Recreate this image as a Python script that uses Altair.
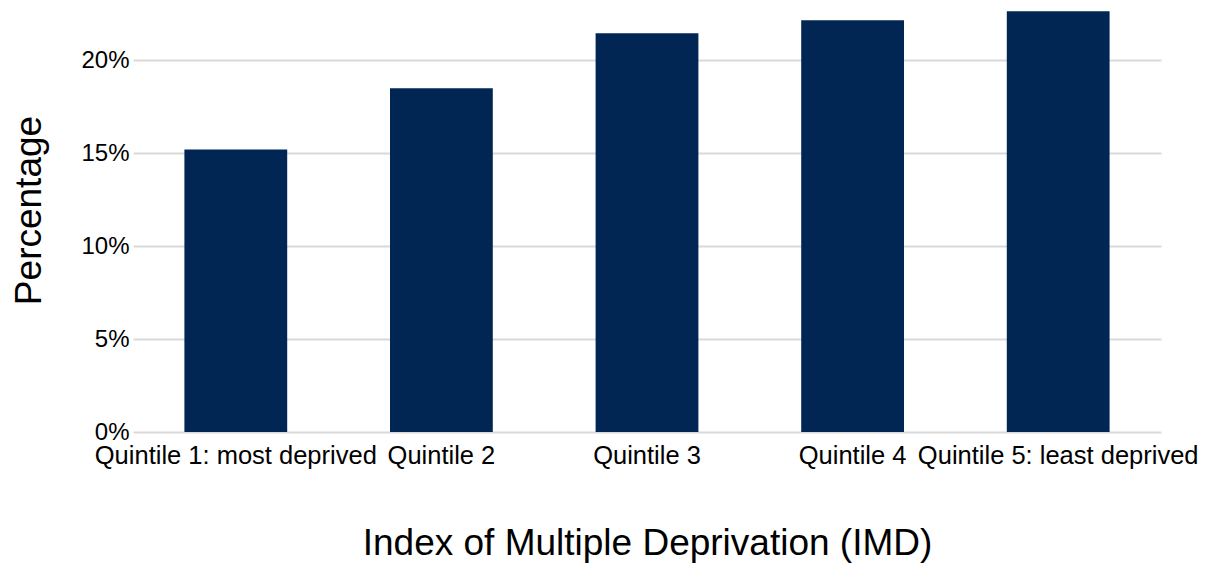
import altair as alt
import pandas as pd

categories = ["Quintile 1: most deprived", "Quintile 2", "Quintile 3", "Quintile 4", "Quintile 5: least deprived"]
values = [0.152, 0.185, 0.2145, 0.2215, 0.2263]

df = pd.DataFrame({"quintile": categories, "pct": values})

FONT = "Liberation Sans"

chart = alt.Chart(df).mark_bar(color="#022654").encode(
    x=alt.X("quintile:N", sort=categories,
            scale=alt.Scale(paddingInner=0.5, paddingOuter=0.25),
            axis=alt.Axis(title="Index of Multiple Deprivation (IMD)", labelAngle=0,
                          labelFontSize=25.5, labelFont=FONT, labelColor="#000000",
                          labelPadding=11, ticks=False, domain=False, labelLimit=400,
                          titleFontSize=37, titleFont=FONT, titleFontWeight="normal",
                          titleColor="#000000", titlePadding=57)),
    y=alt.Y("pct:Q", scale=alt.Scale(domain=[0, 0.2265], nice=False),
            axis=alt.Axis(title="Percentage", format=".0%", values=[0, 0.05, 0.1, 0.15, 0.2],
                          labelFontSize=24, labelFont=FONT, labelColor="#000000",
                          labelPadding=4, ticks=False, domain=False,
                          gridColor="#d9d9d9", gridWidth=2,
                          titleFontSize=37, titleFont=FONT, titleFontWeight="normal",
                          titleColor="#000000", titlePadding=32, titleY=199)),
).properties(
    width=1028, height=421,
    autosize=alt.AutoSizeParams(type="none"),
    padding={"left": 125, "top": 3, "right": 40, "bottom": 136},
).configure_view(stroke=None)

chart.save("out.html", embed_options={"renderer": "svg", "actions": False})
